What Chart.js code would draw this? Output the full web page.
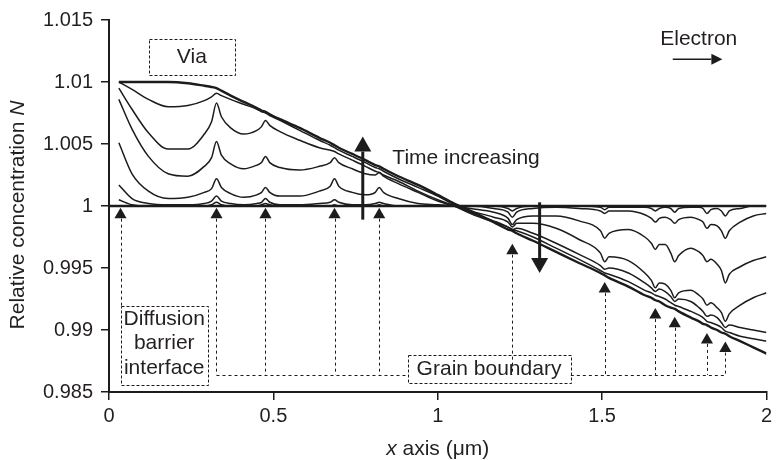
<!DOCTYPE html>
<html>
<head>
<meta charset="utf-8">
<script src="https://cdn.jsdelivr.net/npm/chart.js@4.4.1/dist/chart.umd.min.js"></script>
<style>
  html, body { margin: 0; padding: 0; background: #fff; }
  #wrap { width: 776px; height: 460px; }
</style>
</head>
<body>
<div id="wrap"><canvas id="myChart"></canvas></div>
<script>
// Sample positions along the line (um), shared by every profile.
// Extra points sit either side of each grain boundary so the cusps stay sharp.
const xs = [0.03, 0.07, 0.12, 0.18, 0.24, 0.29, 0.312, 0.327, 0.342, 0.37,
            0.41, 0.45, 0.464, 0.476, 0.489, 0.52, 0.58, 0.64, 0.673, 0.686,
            0.699, 0.74, 0.78, 0.810, 0.822, 0.835, 0.88, 0.94, 1.00, 1.05,
            1.10, 1.17, 1.214, 1.227, 1.240, 1.29, 1.36, 1.43, 1.495, 1.508,
            1.521, 1.58, 1.630, 1.650, 1.662, 1.674, 1.692, 1.709, 1.721, 1.733,
            1.77, 1.795, 1.807, 1.819, 1.831, 1.85, 1.863, 1.875, 1.887, 1.92,
            1.96, 2.00];

// Relative concentration profiles, early -> late
const t1 = [1.0005, 1.0001, 1.0000, 1.0000, 1.0000, 1.0000, 1.0001, 1.0003, 1.0001, 1.0000,
            1.0000, 1.0000, 1.0001, 1.0002, 1.0001, 1.0000, 1.0000, 1.0000, 1.0000, 1.0001,
            1.0000, 1.0000, 1.0000, 1.0000, 1.0001, 1.0000, 1.0000, 1.0000, 1.0000, 1.0000,
            1.0000, 1.0000, 0.9998, 0.9996, 0.9998, 1.0000, 1.0000, 1.0000, 0.9999, 0.9997,
            0.9999, 0.9999, 0.9999, 0.9998, 0.9996, 0.9998, 0.9999, 0.9998, 0.9995, 0.9998,
            0.9999, 0.9999, 0.9998, 0.9994, 0.9997, 0.9998, 0.9996, 0.9992, 0.9996, 0.9998,
            1.0000, 1.0000];
const t2 = [1.0017, 1.0006, 1.0002, 1.0001, 1.0001, 1.0002, 1.0004, 1.0008, 1.0004, 1.0002,
            1.0001, 1.0002, 1.0003, 1.0006, 1.0003, 1.0001, 1.0001, 1.0002, 1.0003, 1.0005,
            1.0003, 1.0001, 1.0001, 1.0002, 1.0003, 1.0002, 1.0000, 1.0000, 1.0000, 1.0000,
            1.0000, 0.9998, 0.9995, 0.9991, 0.9995, 0.9998, 0.9999, 0.9998, 0.9996, 0.9994,
            0.9996, 0.9996, 0.9993, 0.9990, 0.9987, 0.9990, 0.9991, 0.9989, 0.9986, 0.9989,
            0.9991, 0.9989, 0.9987, 0.9982, 0.9985, 0.9984, 0.9980, 0.9974, 0.9980, 0.9987,
            0.9992, 0.9994];
const t3 = [1.0051, 1.0026, 1.0012, 1.0006, 1.0007, 1.0011, 1.0014, 1.0022, 1.0015, 1.0010,
            1.0007, 1.0009, 1.0011, 1.0015, 1.0011, 1.0008, 1.0008, 1.0012, 1.0016, 1.0022,
            1.0016, 1.0011, 1.0009, 1.0011, 1.0015, 1.0011, 1.0006, 1.0002, 1.0001, 1.0000,
            0.9998, 0.9995, 0.9990, 0.9985, 0.9989, 0.9992, 0.9992, 0.9988, 0.9980, 0.9974,
            0.9978, 0.9981, 0.9975, 0.9970, 0.9965, 0.9969, 0.9969, 0.9962, 0.9955, 0.9960,
            0.9966, 0.9963, 0.9960, 0.9955, 0.9957, 0.9953, 0.9948, 0.9938, 0.9945, 0.9951,
            0.9956, 0.9959];
const t4 = [1.0086, 1.0062, 1.0040, 1.0026, 1.0024, 1.0032, 1.0039, 1.0052, 1.0041, 1.0034,
            1.0030, 1.0033, 1.0035, 1.0040, 1.0035, 1.0031, 1.0029, 1.0032, 1.0035, 1.0039,
            1.0035, 1.0030, 1.0026, 1.0025, 1.0027, 1.0024, 1.0018, 1.0011, 1.0004, 1.0000,
            0.9996, 0.9991, 0.9987, 0.9983, 0.9986, 0.9986, 0.9982, 0.9973, 0.9962, 0.9955,
            0.9959, 0.9956, 0.9946, 0.9940, 0.9934, 0.9938, 0.9937, 0.9932, 0.9926, 0.9930,
            0.9932, 0.9928, 0.9925, 0.9920, 0.9922, 0.9918, 0.9914, 0.9907, 0.9913, 0.9920,
            0.9926, 0.9930];
const t5 = [1.0095, 1.0078, 1.0059, 1.0046, 1.0046, 1.0058, 1.0068, 1.0083, 1.0072, 1.0063,
            1.0058, 1.0061, 1.0064, 1.0069, 1.0065, 1.0060, 1.0053, 1.0047, 1.0045, 1.0044,
            1.0042, 1.0037, 1.0032, 1.0028, 1.0027, 1.0025, 1.0020, 1.0012, 1.0005, 1.0000,
            0.9994, 0.9987, 0.9983, 0.9981, 0.9982, 0.9978, 0.9970, 0.9961, 0.9952, 0.9949,
            0.9950, 0.9946, 0.9938, 0.9934, 0.9931, 0.9933, 0.9931, 0.9927, 0.9923, 0.9925,
            0.9923, 0.9918, 0.9915, 0.9911, 0.9912, 0.9910, 0.9906, 0.9902, 0.9904, 0.9902,
            0.9900, 0.9898];
const t6 = [1.0100, 1.0094, 1.0086, 1.0080, 1.0081, 1.0085, 1.0088, 1.0091, 1.0089, 1.0086,
            1.0082, 1.0078, 1.0076, 1.0075, 1.0073, 1.0069, 1.0061, 1.0053, 1.0049, 1.0047,
            1.0045, 1.0040, 1.0035, 1.0031, 1.0030, 1.0028, 1.0022, 1.0015, 1.0008, 1.0001,
            0.9995, 0.9988, 0.9983, 0.9981, 0.9980, 0.9975, 0.9966, 0.9957, 0.9948, 0.9946,
            0.9945, 0.9939, 0.9932, 0.9930, 0.9928, 0.9927, 0.9925, 0.9922, 0.9920, 0.9919,
            0.9915, 0.9912, 0.9910, 0.9907, 0.9906, 0.9904, 0.9902, 0.9899, 0.9898, 0.9895,
            0.9893, 0.9891];
const steady = [1.0100, 1.0100, 1.0100, 1.0100, 1.0099, 1.0097, 1.0096, 1.0095, 1.0093, 1.0089,
                1.0084, 1.0079, 1.0077, 1.0076, 1.0074, 1.0070, 1.0063, 1.0055, 1.0051, 1.0049,
                1.0047, 1.0042, 1.0037, 1.0033, 1.0032, 1.0030, 1.0024, 1.0017, 1.0009, 1.0002,
                0.9996, 0.9987, 0.9981, 0.9980, 0.9978, 0.9972, 0.9963, 0.9954, 0.9946, 0.9944,
                0.9942, 0.9935, 0.9928, 0.9926, 0.9924, 0.9923, 0.9920, 0.9918, 0.9917, 0.9915,
                0.9910, 0.9907, 0.9905, 0.9904, 0.9902, 0.9900, 0.9898, 0.9897, 0.9895, 0.9891,
                0.9886, 0.9881];

// initial uniform profile
const t0X = [0, 2];
const t0Y = [1, 1];

// grain boundary markers
const gbLeftX = [0.035, 0.327, 0.476, 0.686, 0.822];
const gbLeftY = [0.9993, 0.9993, 0.9993, 0.9993, 0.9993];
const gbRightX = [1.227, 1.508, 1.662, 1.721, 1.819, 1.875];
const gbRightY = [0.9964, 0.9933, 0.9912, 0.9905, 0.9892, 0.9885];
const gbFloor = 0.98638;

const xTicks = [0, 0.5, 1, 1.5, 2];
const xTickLabels = ['0', '0.5', '1', '1.5', '2'];
const yTicks = [0.985, 0.99, 0.995, 1, 1.005, 1.01, 1.015];
const yTickLabels = ['0.985', '0.99', '0.995', '1', '1.005', '1.01', '1.015'];

const ink = '#1c1c1c';
const family = '"Liberation Sans", Arial, Helvetica, sans-serif';

function pts(xv, yv) {
  return xv.map((x, i) => ({ x: x, y: yv[i] }));
}

function profile(values, width) {
  return {
    type: 'line',
    data: pts(xs, values),
    borderColor: ink,
    borderWidth: width,
    pointRadius: 0,
    cubicInterpolationMode: 'monotone',
    fill: false
  };
}

function arrow(ctx, x0, y0, x1, y1, lw, headLen, headW) {
  const a = Math.atan2(y1 - y0, x1 - x0);
  const bx = x1 - Math.cos(a) * headLen, by = y1 - Math.sin(a) * headLen;
  ctx.lineWidth = lw;
  ctx.beginPath();
  ctx.moveTo(x0, y0);
  ctx.lineTo(bx, by);
  ctx.stroke();
  ctx.beginPath();
  ctx.moveTo(x1, y1);
  ctx.lineTo(bx + Math.sin(a) * headW / 2, by - Math.cos(a) * headW / 2);
  ctx.lineTo(bx - Math.sin(a) * headW / 2, by + Math.cos(a) * headW / 2);
  ctx.closePath();
  ctx.fill();
}

function mixedText(ctx, parts, cx, cy, size) {
  const fonts = parts.map(p => (p.italic ? 'italic ' : '') + size + 'px ' + family);
  let total = 0;
  const widths = parts.map((p, i) => { ctx.font = fonts[i]; const w = ctx.measureText(p.text).width; total += w; return w; });
  let x = cx - total / 2;
  ctx.textAlign = 'left';
  ctx.textBaseline = 'middle';
  parts.forEach((p, i) => { ctx.font = fonts[i]; ctx.fillText(p.text, x, cy); x += widths[i]; });
}

// labels, boxes, arrows and dashed guides
const notes = {
  id: 'notes',
  afterDraw(chart) {
    const { ctx, scales: { x, y } } = chart;
    const px = v => x.getPixelForValue(v);
    const py = v => y.getPixelForValue(v);
    ctx.save();
    ctx.strokeStyle = ink;
    ctx.fillStyle = ink;

    // dashed drop lines from each grain boundary marker
    ctx.setLineDash([3, 3]);
    ctx.lineWidth = 1;
    ctx.beginPath();
    gbLeftX.forEach((gx, i) => {
      const bottom = i === 0 ? py(0.99195) : py(gbFloor);
      ctx.moveTo(Math.round(px(gx)) + 0.5, py(gbLeftY[i]) + 4);
      ctx.lineTo(Math.round(px(gx)) + 0.5, bottom);
    });
    gbRightX.forEach((gx, i) => {
      ctx.moveTo(Math.round(px(gx)) + 0.5, py(gbRightY[i]) + 4);
      ctx.lineTo(Math.round(px(gx)) + 0.5, py(gbFloor));
    });
    const fy = Math.round(py(gbFloor)) + 0.5;
    ctx.moveTo(px(gbLeftX[1]), fy);
    ctx.lineTo(px(0.910), fy);
    ctx.moveTo(px(1.405), fy);
    ctx.lineTo(px(gbRightX[gbRightX.length - 1]), fy);
    ctx.stroke();

    // dashed label boxes
    ctx.setLineDash([3, 2]);
    const box = (x0, y0, x1, y1) => {
      const l = Math.round(px(x0)) + 0.5, t = Math.round(py(y0)) + 0.5;
      const r = Math.round(px(x1)) + 0.5, b = Math.round(py(y1)) + 0.5;
      ctx.strokeRect(l, t, r - l, b - t);
    };
    box(0.122, 1.01344, 0.382, 1.01058);
    box(0.036, 0.99195, 0.302, 0.98558);
    box(0.910, 0.98797, 1.405, 0.98574);
    ctx.setLineDash([]);

    ctx.font = '21px ' + family;
    ctx.textAlign = 'center';
    ctx.textBaseline = 'middle';
    ctx.fillStyle = '#231f20';
    ctx.fillText('Via', px(0.252), py(1.0120));
    ctx.fillText('Diffusion', px(0.168), py(0.99084));
    ctx.fillText('barrier', px(0.168), py(0.98893));
    ctx.fillText('interface', px(0.168), py(0.98694));
    ctx.fillText('Grain boundary', px(1.156), py(0.98685));
    ctx.fillText('Electron', px(1.794), py(1.01343));
    ctx.textAlign = 'left';
    ctx.fillText('Time increasing', px(0.862), py(1.00388));

    ctx.fillStyle = ink;
    arrow(ctx, px(1.715), py(1.01184), px(1.866), py(1.01184), 1.5, 11, 11);
    arrow(ctx, px(0.772), py(0.9989), px(0.772), py(1.0056), 3, 15, 17);
    arrow(ctx, px(1.310), py(1.0003), px(1.310), py(0.9946), 3, 15, 17);

    // axis titles
    ctx.fillStyle = '#231f20';
    mixedText(ctx, [{ text: 'x', italic: true }, { text: ' axis (μm)' }],
      (chart.chartArea.left + chart.chartArea.right) / 2, 449, 21);
    ctx.translate(18, 215);
    ctx.rotate(-Math.PI / 2);
    mixedText(ctx, [{ text: 'Relative concentration ' }, { text: 'N', italic: true }], 0, 0, 21);
    ctx.restore();
  }
};

const ctx = document.getElementById('myChart');

new Chart(ctx, {
  data: {
    datasets: [
      {
        type: 'line',
        data: pts(t0X, t0Y),
        borderColor: ink,
        borderWidth: 2.5,
        pointRadius: 0,
        fill: false
      },
      profile(t1, 1.5),
      profile(t2, 1.5),
      profile(t3, 1.5),
      profile(t4, 1.5),
      profile(t5, 1.5),
      profile(t6, 1.5),
      profile(steady, 2.4),
      {
        type: 'scatter',
        data: pts(gbLeftX, gbLeftY).concat(pts(gbRightX, gbRightY)),
        pointStyle: 'triangle',
        pointRadius: 7,
        backgroundColor: ink,
        borderWidth: 0
      }
    ]
  },
  options: {
    responsive: true,
    maintainAspectRatio: false,
    animation: false,
    events: [],
    layout: { padding: { left: 0, top: 15, right: 7, bottom: 0 } },
    plugins: {
      legend: { display: false },
      tooltip: { enabled: false }
    },
    scales: {
      x: {
        type: 'linear',
        min: 0,
        max: 2,
        afterBuildTicks: s => { s.ticks = xTicks.map(v => ({ value: v })); },
        afterFit: s => { s.height = 68; },
        ticks: {
          autoSkip: false,
          maxRotation: 0,
          padding: 4,
          color: '#231f20',
          font: { size: 20, family: family },
          callback: (v, i) => xTickLabels[i]
        },
        grid: { drawOnChartArea: false, tickLength: 8, color: ink, lineWidth: 1.5 },
        border: { color: ink, width: 2 }
      },
      y: {
        type: 'linear',
        min: 0.985,
        max: 1.015,
        afterBuildTicks: s => { s.ticks = yTicks.map(v => ({ value: v })); },
        afterFit: s => { s.width = 109; },
        ticks: {
          autoSkip: false,
          padding: 8,
          color: '#231f20',
          font: { size: 20, family: family },
          callback: (v, i) => yTickLabels[i]
        },
        grid: { drawOnChartArea: false, tickLength: 8, color: ink, lineWidth: 1.5 },
        border: { color: ink, width: 2 }
      }
    }
  },
  plugins: [notes]
});
</script>
</body>
</html>
